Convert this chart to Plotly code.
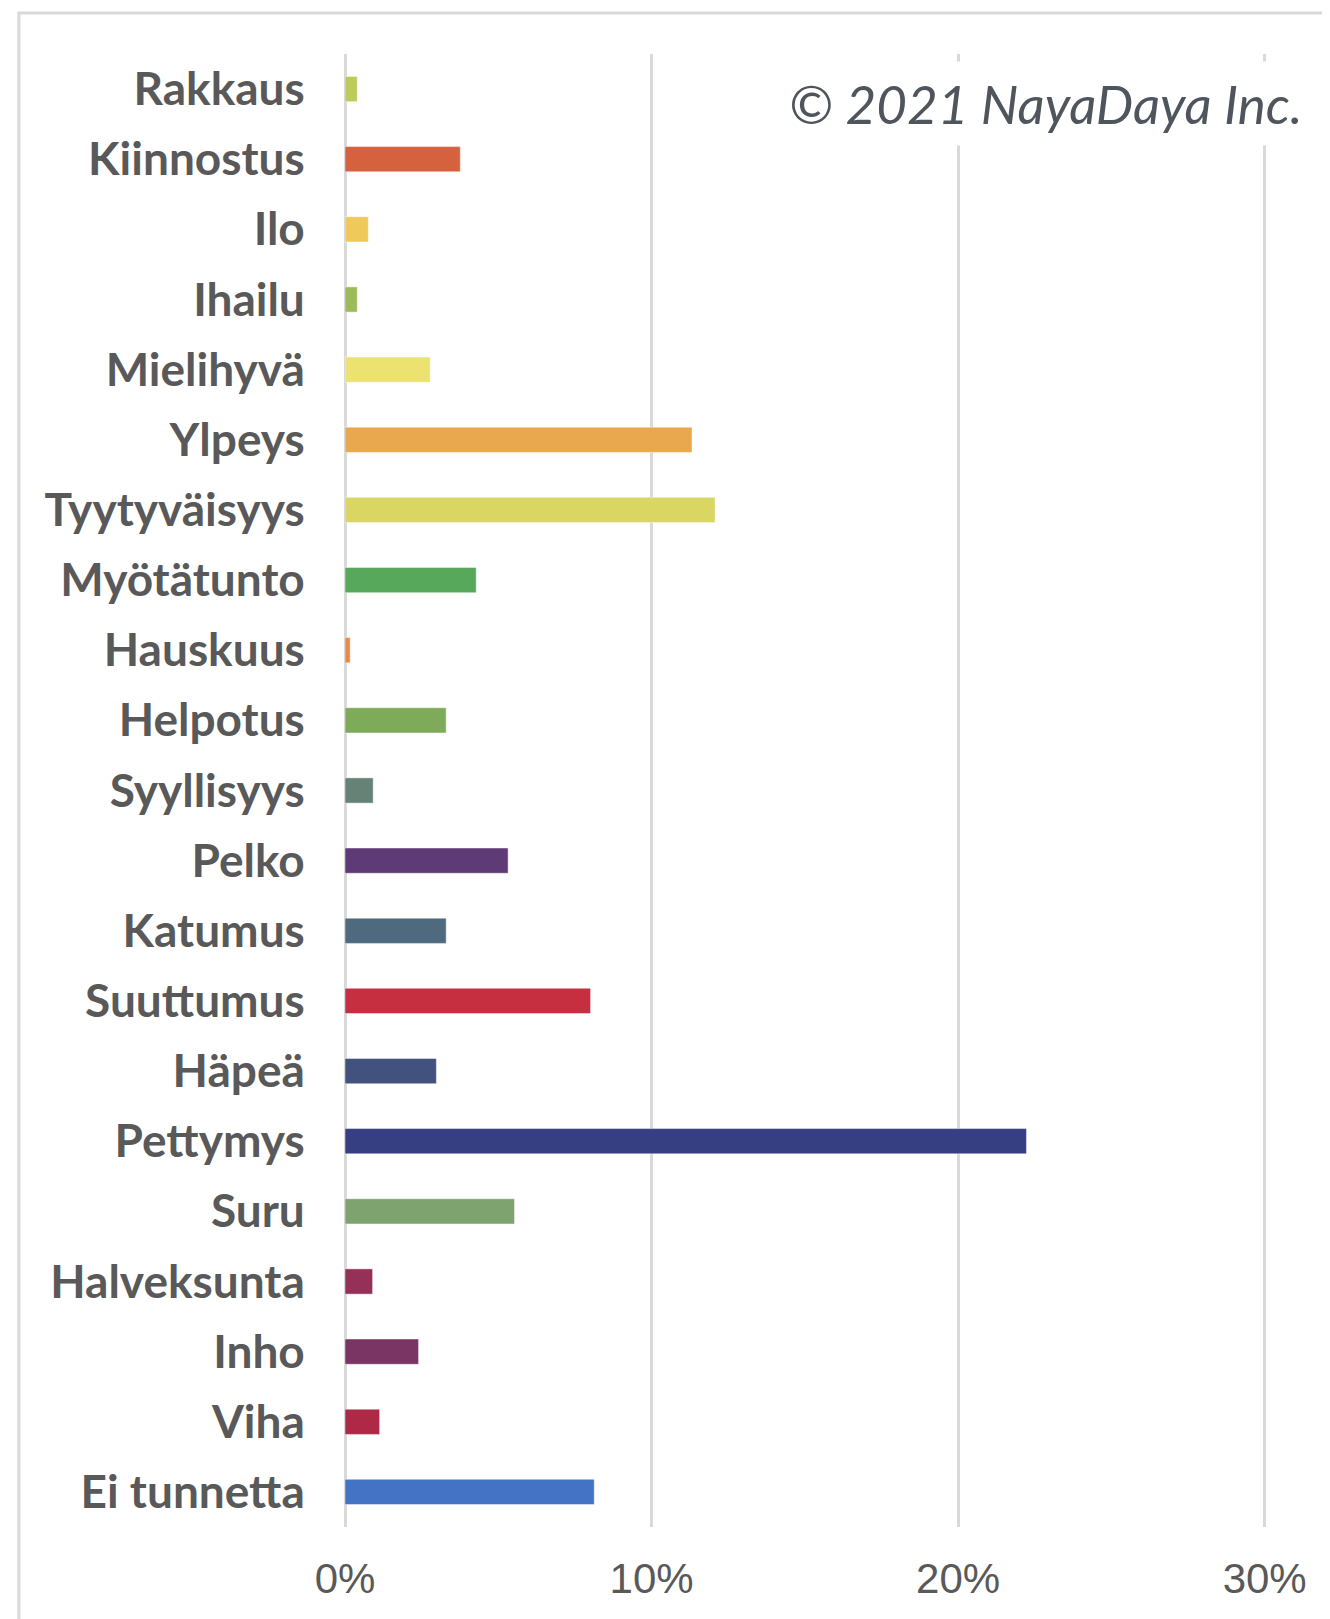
import plotly.graph_objects as go

categories = ["Rakkaus", "Kiinnostus", "Ilo", "Ihailu", "Mielihyvä", "Ylpeys",
              "Tyytyväisyys", "Myötätunto", "Hauskuus", "Helpotus", "Syyllisyys",
              "Pelko", "Katumus", "Suuttumus", "Häpeä", "Pettymys", "Suru",
              "Halveksunta", "Inho", "Viha", "Ei tunnetta"]
values = [0.0040, 0.0376, 0.0076, 0.0040, 0.0278, 0.1132,
          0.1207, 0.0428, 0.0017, 0.0330, 0.0092,
          0.0532, 0.0330, 0.0801, 0.0298, 0.2223, 0.0553,
          0.0090, 0.0240, 0.0113, 0.0813]
colors = ["#bccb5a", "#d6613e", "#efc95a", "#9cbb5a", "#ebe272", "#eaa84e",
          "#d9d664", "#58a85c", "#e98b48", "#7eab5a", "#668276",
          "#5e3a76", "#4f6a7e", "#c62f3f", "#40527d", "#363f82", "#7ea36e",
          "#953058", "#7a3565", "#ad2945", "#4472c4"]
tick_vals = [0, 0.1, 0.2, 0.3]
tick_text = ["0%", "10%", "20%", "30%"]
copyright_text = "© 2021 NayaDaya Inc."

OFF = 8  # default page body margin
W, H = 1330 - OFF, 1619 - OFF
XMAX = 0.305
# target page pixels
L = 345 - OFF
R = L + 3064 * XMAX  # 10% = 306.4 px
T, B = 54 - OFF, 1527 - OFF

fig = go.Figure(go.Bar(
    x=values, y=categories, orientation="h",
    marker=dict(color=colors, line=dict(color="rgba(255,255,255,0.45)", width=1)),
    width=0.36,
))

def px_x(px):
    return (px - OFF - L) / (R - L)

def px_y(py):
    return (B - (py - OFF)) / (B - T)

fig.update_layout(
    width=W, height=H,
    margin=dict(l=L, r=W - R, t=T, b=H - B, pad=0),
    paper_bgcolor="white", plot_bgcolor="white",
    showlegend=False,
    xaxis=dict(range=[0, XMAX], tickvals=tick_vals, ticktext=tick_text,
               showgrid=True, gridcolor="#d9d9d9", gridwidth=3,
               zeroline=True, zerolinecolor="#d9d9d9", zerolinewidth=3,
               showline=False, ticks="outside", ticklen=15, tickcolor="rgba(0,0,0,0)",
               tickfont=dict(family="Liberation Sans, Arial", size=42, color="#595959"),
               fixedrange=True),
    yaxis=dict(autorange="reversed", showgrid=False, zeroline=False, showline=False,
               ticks="outside", ticklen=30, tickcolor="rgba(0,0,0,0)",
               tickfont=dict(family="Lato", size=46, color="#595959", weight="bold"),
               fixedrange=True),
    shapes=[dict(type="rect", xref="paper", yref="paper",
                 x0=px_x(19), x1=px_x(1345), y0=px_y(13), y1=px_y(1640),
                 line=dict(color="#d9d9d9", width=3), fillcolor="rgba(0,0,0,0)",
                 layer="below")],
    annotations=[dict(text=copyright_text, xref="paper", yref="paper",
                      x=px_x(1313), y=px_y(104), xanchor="right", yanchor="middle",
                      showarrow=False, bgcolor="white", borderpad=10,
                      font=dict(family="Lato", size=53, color="#4f555c", style="italic"))],
)

fig.write_html("out.html")
